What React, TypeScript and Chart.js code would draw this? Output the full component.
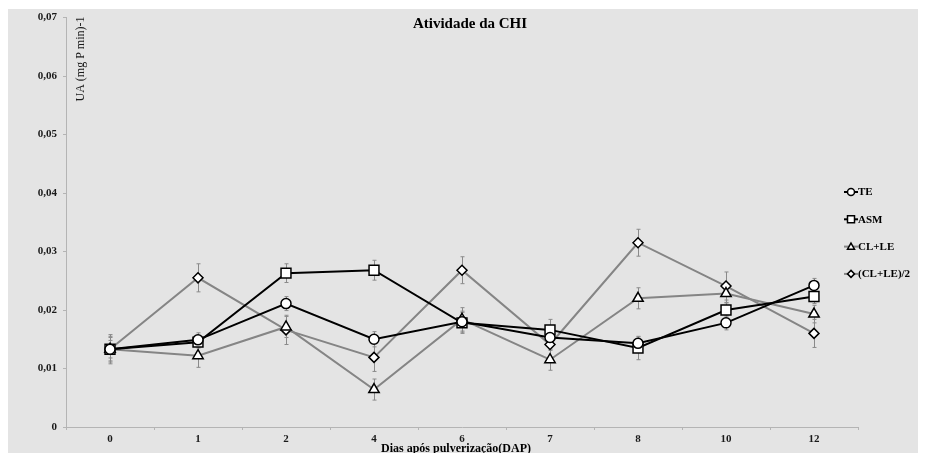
import React, { useEffect, useRef } from 'react';
import { Chart, registerables } from 'chart.js';

Chart.register(...registerables);

const days = ['0', '1', '2', '4', '6', '7', '8', '10', '12'];
const seriesNames = ['TE', 'ASM', 'CL+LE', '(CL+LE)/2'];
const teValues = [0.0133, 0.0149, 0.0211, 0.0150, 0.0180, 0.0153, 0.0143, 0.0178, 0.0242];
const asmValues = [0.0133, 0.0145, 0.0263, 0.0268, 0.0178, 0.0166, 0.0135, 0.0200, 0.0223];
const clleValues = [0.0133, 0.0122, 0.0171, 0.0064, 0.0184, 0.0115, 0.0220, 0.0228, 0.0193];
const halfValues = [0.0133, 0.0255, 0.0166, 0.0119, 0.0268, 0.0141, 0.0315, 0.0241, 0.0160];
const teErrors = [0.0020, 0.0012, 0.0012, 0.0013, 0.0018, 0.0012, 0.0011, 0.0012, 0.0012];
const asmErrors = [0.0015, 0.0010, 0.0016, 0.0017, 0.0018, 0.0018, 0.0020, 0.0012, 0.0012];
const clleErrors = [0.0025, 0.0020, 0.0018, 0.0018, 0.0020, 0.0018, 0.0018, 0.0015, 0.0015];
const halfErrors = [0.0022, 0.0024, 0.0025, 0.0024, 0.0023, 0.0010, 0.0023, 0.0024, 0.0024];
const yTicks = [0, 0.01, 0.02, 0.03, 0.04, 0.05, 0.06, 0.07];

const chartTitle = 'Atividade da CHI';
const xTitle = 'Dias após pulverização(DAP)';
const yTitle = 'UA (mg P min)-1';

const SERIF = "'Liberation Serif', 'DejaVu Serif', serif";

const errorsBySeries = [teErrors, asmErrors, clleErrors, halfErrors];

const errorBarPlugin = {
  id: 'errorBars',
  beforeDatasetsDraw(chart: any) {
    const ctx = chart.ctx;
    const yScale = chart.scales.y;
    ctx.save();
    ctx.strokeStyle = '#8a8a8a';
    ctx.lineWidth = 1;
    chart.data.datasets.forEach((ds: any, i: number) => {
      const meta = chart.getDatasetMeta(i);
      const errs = errorsBySeries[i];
      meta.data.forEach((pt: any, j: number) => {
        const v = ds.data[j];
        const e = errs[j];
        const x = Math.round(pt.x) + 0.5;
        const yTop = yScale.getPixelForValue(v + e);
        const yBot = yScale.getPixelForValue(v - e);
        ctx.beginPath();
        ctx.moveTo(x, yTop);
        ctx.lineTo(x, yBot);
        ctx.moveTo(x - 2, yTop);
        ctx.lineTo(x + 2, yTop);
        ctx.moveTo(x - 2, yBot);
        ctx.lineTo(x + 2, yBot);
        ctx.stroke();
      });
    });
    ctx.restore();
  },
};

function drawMarker(ctx: any, style: string, x: number, y: number, r: number) {
  ctx.beginPath();
  if (style === 'circle') {
    ctx.arc(x, y, r, 0, Math.PI * 2);
  } else if (style === 'rect') {
    ctx.rect(x - r, y - r, 2 * r, 2 * r);
  } else if (style === 'triangle') {
    ctx.moveTo(x, y - r);
    ctx.lineTo(x + r, y + r * 0.75);
    ctx.lineTo(x - r, y + r * 0.75);
    ctx.closePath();
  } else {
    ctx.moveTo(x, y - r);
    ctx.lineTo(x + r, y);
    ctx.lineTo(x, y + r);
    ctx.lineTo(x - r, y);
    ctx.closePath();
  }
  ctx.fillStyle = '#ffffff';
  ctx.fill();
  ctx.strokeStyle = '#000000';
  ctx.lineWidth = 1.5;
  ctx.stroke();
}

const textPlugin = {
  id: 'texts',
  afterDraw(chart: any) {
    const ctx = chart.ctx;
    const area = chart.chartArea;
    ctx.save();
    ctx.fillStyle = '#000000';
    ctx.textAlign = 'center';
    ctx.textBaseline = 'middle';
    ctx.font = `bold 15px ${SERIF}`;
    ctx.fillText(chartTitle, 462, 15);

    ctx.font = `bold 12px ${SERIF}`;
    ctx.fillText(xTitle, 448, 440);

    ctx.save();
    ctx.translate(area.left + 15, 50);
    ctx.rotate(-Math.PI / 2);
    ctx.font = `12px ${SERIF}`;
    ctx.fillStyle = '#1a1a1a';
    ctx.fillText(yTitle, 0, 0);
    ctx.restore();

    // legend
    const legendX = 836;
    const legendY0 = 183;
    const legendGap = 27.3;
    chart.data.datasets.forEach((ds: any, i: number) => {
      const y = legendY0 + i * legendGap;
      ctx.strokeStyle = ds.borderColor;
      ctx.lineWidth = 2;
      ctx.beginPath();
      ctx.moveTo(legendX, y);
      ctx.lineTo(legendX + 14, y);
      ctx.stroke();
      drawMarker(ctx, ds.pointStyle, legendX + 7, y, 3.5);
      ctx.fillStyle = '#000000';
      ctx.textAlign = 'left';
      ctx.font = `bold 11px ${SERIF}`;
      ctx.fillText(ds.label, legendX + 14, y + 0.5);
    });
    ctx.restore();
  },
};

export default function App() {
  const canvasRef = useRef<HTMLCanvasElement | null>(null);

  useEffect(() => {
    if (!canvasRef.current) return;
    const black = '#000000';
    const gray = '#858585';
    const chart = new Chart(canvasRef.current, {
      type: 'line',
      data: {
        labels: days,
        datasets: [
          {
            label: seriesNames[0],
            data: teValues,
            borderColor: black,
            borderWidth: 2,
            pointStyle: 'circle',
            pointRadius: 5,
            pointBackgroundColor: '#ffffff',
            pointBorderColor: black,
            pointBorderWidth: 1.5,
          },
          {
            label: seriesNames[1],
            data: asmValues,
            borderColor: black,
            borderWidth: 2,
            pointStyle: 'rect',
            pointRadius: 7,
            pointBackgroundColor: '#ffffff',
            pointBorderColor: black,
            pointBorderWidth: 1.5,
          },
          {
            label: seriesNames[2],
            data: clleValues,
            borderColor: gray,
            borderWidth: 2,
            pointStyle: 'triangle',
            pointRadius: 6,
            pointBackgroundColor: '#ffffff',
            pointBorderColor: black,
            pointBorderWidth: 1.5,
          },
          {
            label: seriesNames[3],
            data: halfValues,
            borderColor: gray,
            borderWidth: 2,
            pointStyle: 'rectRot',
            pointRadius: 5,
            pointBackgroundColor: '#ffffff',
            pointBorderColor: black,
            pointBorderWidth: 1.5,
          },
        ],
      },
      options: {
        responsive: false,
        animation: false,
        layout: { padding: { left: 0, right: 68, top: 4, bottom: 0 } },
        plugins: {
          legend: { display: false },
          title: { display: false },
          tooltip: { enabled: false },
        },
        scales: {
          x: {
            type: 'category',
            offset: true,
            grid: {
              offset: true,
              drawOnChartArea: false,
              drawTicks: true,
              tickLength: 3,
              color: '#b4b4b4',
            },
            border: { color: '#b4b4b4', width: 1 },
            ticks: {
              color: '#1a1a1a',
              font: { family: SERIF, size: 11, weight: 'bold' },
              padding: 3,
              maxRotation: 0,
            },
            afterFit: (scale: any) => {
              scale.height = 26;
              scale.paddingLeft = 0;
              scale.paddingRight = 0;
            },
          },
          y: {
            min: 0,
            max: 0.07,
            afterBuildTicks: (scale: any) => {
              scale.ticks = yTicks.map((v) => ({ value: v }));
            },
            grid: {
              drawOnChartArea: false,
              drawTicks: true,
              tickLength: 3,
              color: '#b4b4b4',
            },
            border: { color: '#b4b4b4', width: 1 },
            ticks: {
              color: '#1a1a1a',
              font: { family: SERIF, size: 11, weight: 'bold' },
              padding: 6,
              callback: (v: any) => (Number(v) === 0 ? '0' : Number(v).toFixed(2).replace('.', ',')),
            },
            afterFit: (scale: any) => {
              scale.width = 58;
              scale.paddingTop = 0;
              scale.paddingBottom = 0;
            },
          },
        },
      },
      plugins: [errorBarPlugin, textPlugin],
    } as any);
    return () => chart.destroy();
  }, []);

  return (
    <div style={{ paddingTop: 1 }}>
      <canvas
        ref={canvasRef}
        width={918}
        height={444}
        style={{ display: 'block', background: '#e4e4e4' }}
      />
    </div>
  );
}
